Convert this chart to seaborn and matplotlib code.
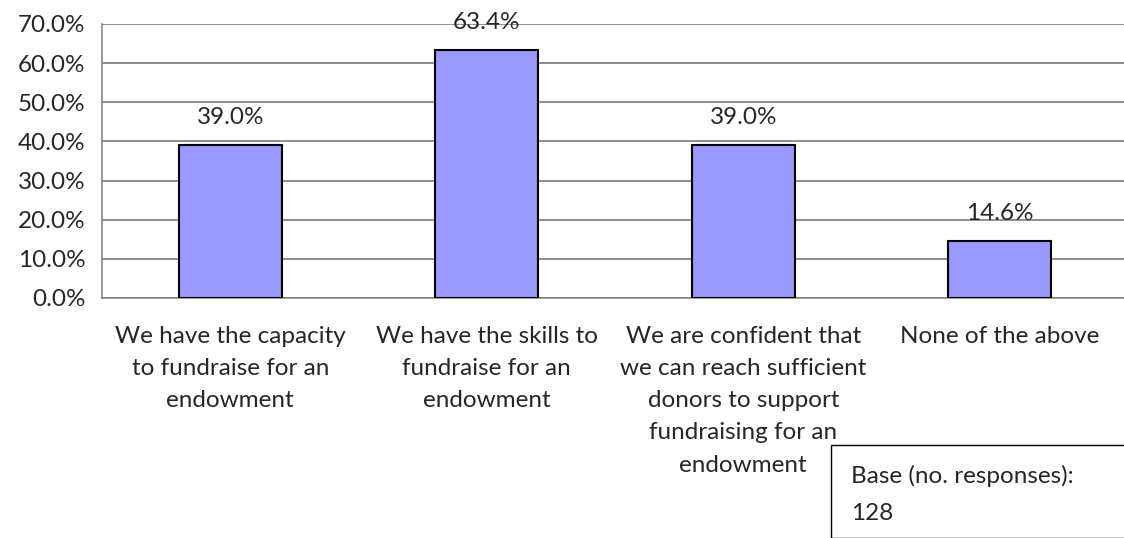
import matplotlib
matplotlib.use("Agg")
import matplotlib.pyplot as plt
import matplotlib.patches as mpatches
import seaborn as sns
import pandas as pd

# Data
categories = [
    "We have the capacity\nto fundraise for an\nendowment",
    "We have the skills to\nfundraise for an\nendowment",
    "We are confident that\nwe can reach sufficient\ndonors to support\nfundraising for an\nendowment",
    "None of the above",
]
values = [39.0, 63.4, 39.0, 14.6]
y_ticks = [0, 10, 20, 30, 40, 50, 60, 70]
base_note = "Base (no. responses):\n128"

sns.set_style("white")
plt.rcParams["font.family"] = ["Lato", "DejaVu Sans"]

df = pd.DataFrame({"category": categories, "value": values})

FS = 17.5
W, H = 1124, 538
fig = plt.figure(figsize=(W / 100, H / 100), dpi=100)
ax = fig.add_axes([102 / W, (H - 298) / H, 1026 / W, 274 / H])

sns.barplot(data=df, x="category", y="value", ax=ax, color="#9999FF",
            saturation=1, width=0.4, edgecolor="black", linewidth=1.5, zorder=3)

ax.set_ylim(0, 70)
ax.set_xlim(-0.5, 3.5)
ax.set_yticks(y_ticks)
ax.set_yticklabels([f"{t:.1f}%" for t in y_ticks], fontsize=FS)
ax.yaxis.grid(True, color="#707070", linewidth=1.1, zorder=0)
ax.set_axisbelow(True)
ax.tick_params(axis="y", length=0, pad=12)
ax.tick_params(axis="x", length=0, pad=20, labelsize=FS)
ax.set_xlabel("")
ax.set_ylabel("")

for s in ["top", "right"]:
    ax.spines[s].set_visible(False)
for s in ["left", "bottom"]:
    ax.spines[s].set_color("#808080")
    ax.spines[s].set_linewidth(1.1)

for lbl in ax.get_xticklabels():
    lbl.set_linespacing(1.66)
    lbl.set_verticalalignment("top")

for i, v in enumerate(values):
    ax.annotate(f"{v:.1f}%", (i, v), xytext=(0, 20), textcoords="offset points",
                ha="center", va="center", fontsize=FS, zorder=4)

# Base box
box = mpatches.Rectangle((831 / W, 0), (W - 831) / W + 0.01, (H - 445) / H,
                         transform=fig.transFigure, fill=False,
                         edgecolor="black", linewidth=1.0)
fig.patches.append(box)
fig.text(851 / W, (H - 465) / H, base_note, fontsize=FS, va="top", ha="left",
         linespacing=1.95)

fig.savefig("out.png", dpi=100)
